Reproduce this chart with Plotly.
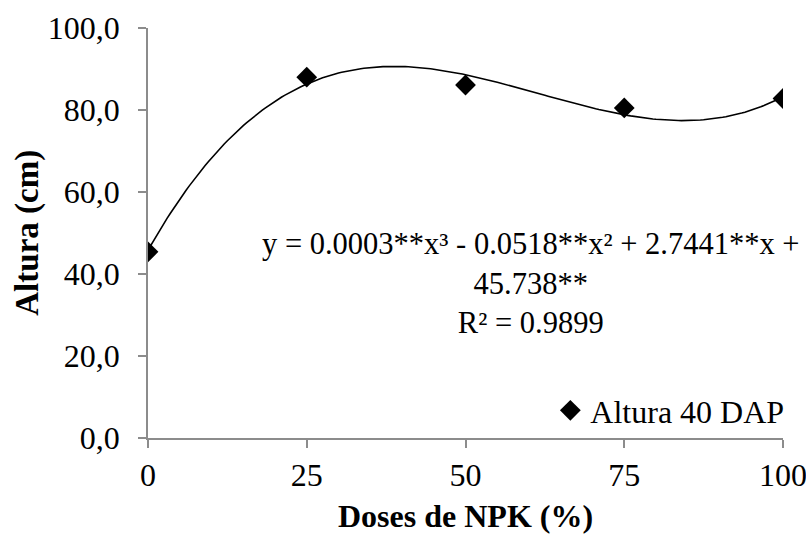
import numpy as np
import plotly.graph_objects as go

# Data
doses = [0, 25, 50, 75, 100]
altura = [45.4, 88.0, 86.1, 80.5, 82.8]
x_ticks = [0, 25, 50, 75, 100]
y_ticks = [0, 20, 40, 60, 80, 100]
series_name = "Altura 40 DAP"
x_title = "<b>Doses de NPK (%)</b>"
y_title = "<b>Altura (cm)</b>"
equation_text = "y = 0.0003**x³ - 0.0518**x² + 2.7441**x +<br>45.738**<br>R² = 0.9899"

# Cubic trendline fitted from the data (as Excel does)
coef = np.polyfit(doses, altura, 3)
xs = np.linspace(0, 100, 201)
ys = np.polyval(coef, xs)

FONT = "Liberation Serif"
FS = 32

fig = go.Figure()
fig.add_trace(go.Scatter(x=xs, y=ys, mode="lines",
                         line=dict(color="black", width=1.6),
                         showlegend=False, hoverinfo="skip"))
fig.add_trace(go.Scatter(x=doses, y=altura, mode="markers", name=series_name,
                         marker=dict(symbol="diamond", size=16, color="black")))

fig.add_annotation(x=60.3, y=37.8, xref="x", yref="y", text=equation_text,
                   showarrow=False, align="center",
                   font=dict(family=FONT, size=30.5, color="black"))

# Axis titles
fig.add_annotation(x=0.5, y=-0.19, xref="paper", yref="paper", text=x_title,
                   showarrow=False, xanchor="center", yanchor="middle", borderpad=0,
                   font=dict(family=FONT, size=32, color="black"))
fig.add_annotation(x=-0.191, y=0.5, xref="paper", yref="paper", text=y_title,
                   showarrow=False, xanchor="center", yanchor="middle", textangle=-90,
                   font=dict(family=FONT, size=33, color="black"))

fig.update_layout(
    width=806, height=536,
    margin=dict(l=148, r=23, t=28, b=98),
    paper_bgcolor="white", plot_bgcolor="white",
    separators=",.",
    font=dict(family=FONT, size=FS, color="black"),
    legend=dict(x=1.01, y=0.0, xanchor="right", yanchor="bottom",
                bgcolor="rgba(0,0,0,0)", font=dict(family=FONT, size=FS),
                itemwidth=30),
    xaxis=dict(range=[0, 100], tickvals=x_ticks, showgrid=False, zeroline=False,
               automargin=False, ticklabeloverflow="allow",
               showline=True, linecolor="#8c8c8c", linewidth=1.5,
               ticks="outside", tickcolor="#8c8c8c", ticklen=8, tickwidth=1.5),
    yaxis=dict(range=[0, 100], tickvals=y_ticks, tickformat=".1f", showgrid=False, zeroline=False,
               automargin=False, ticklabelstandoff=12,
               showline=True, linecolor="#8c8c8c", linewidth=1.5,
               ticks="outside", tickcolor="#8c8c8c", ticklen=8, tickwidth=1.5),
)

fig.write_html("out.html")
